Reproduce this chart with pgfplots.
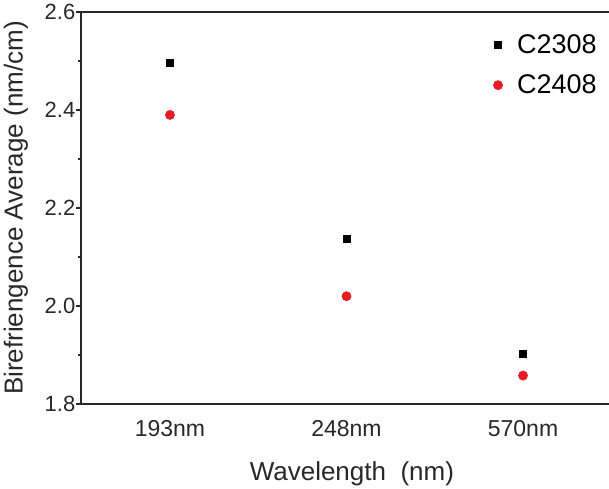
\documentclass[border=0pt]{standalone}
\usepackage{fontspec}
\setmainfont{Liberation Sans}
\usepackage{pgfplots}
\pgfplotsset{compat=1.18}
\definecolor{ptred}{RGB}{232,28,36}
\definecolor{axgray}{RGB}{40,40,40}
\begin{document}
\begin{tikzpicture}
\begin{axis}[
  name=ax,
  scale only axis,
  width=264pt, height=196pt,
  xmin=-0.504, xmax=2.487,
  ymin=1.8, ymax=2.6,
  axis x line=box, axis y line=left,
  y axis line style={-},
  axis line style={line width=0.9pt, axgray},
  xtick={0,1,2}, xticklabels={193nm,248nm,570nm},
  xtick style={draw=none},
  ytick={1.8,2.0,2.2,2.4,2.6},
  minor ytick={1.9,2.1,2.3,2.5},
  tick align=outside,
  major tick length=2.3pt, minor tick length=1.3pt,
  every tick/.style={line width=0.8pt, axgray},
  /pgf/number format/assume math mode=true,
  yticklabel style={/pgf/number format/fixed, /pgf/number format/fixed zerofill, /pgf/number format/precision=1, xshift=3pt},
  tick label style={font=\fontsize{11}{13}\selectfont, text=axgray},
  xticklabel style={font=\fontsize{11.5}{13}\selectfont, yshift=-2.5pt},
  every axis y label/.style={at={(rel axis cs:0,0.5)}, xshift=-32.5pt, rotate=90, anchor=center},
  every axis x label/.style={at={(rel axis cs:0.513,0)}, yshift=-35pt, anchor=center},
  label style={font=\fontsize{13}{15}\selectfont, text=axgray},
  xlabel={Wavelength\ \ (nm)},
  ylabel={Birefriengence Average (nm/cm)},
  legend style={draw=none, fill=none, inner sep=0pt, nodes={inner sep=4pt}, at={(rel axis cs:1,1)}, xshift=-2pt, yshift=-7pt, anchor=north east, font=\fontsize{13.5}{16}\selectfont, row sep=1pt},
  legend cell align=left,
  legend image code/.code={%
    \draw[mark repeat=2,mark phase=2] plot coordinates {(0pt,0pt)(4pt,0pt)(8pt,0pt)};
    \path[draw=none, fill=none] (0pt,0pt) rectangle (9.5pt,0pt);},
]
\addplot[only marks, mark=square*, mark size=1.75pt, color=black] coordinates {
  (0, 2.497) (1, 2.137) (2, 1.903)
};
\addlegendentry{C2308}
\addplot[only marks, mark=*, mark size=2.25pt, color=ptred] coordinates {
  (0, 2.390) (1, 2.020) (2, 1.858)
};
\addlegendentry{C2408}
\end{axis}
\pgfresetboundingbox
\path ([shift={(-40.5pt,-42.5pt)}]ax.south west) rectangle ([shift={(0pt,6pt)}]ax.north east);
\end{tikzpicture}
\end{document}
